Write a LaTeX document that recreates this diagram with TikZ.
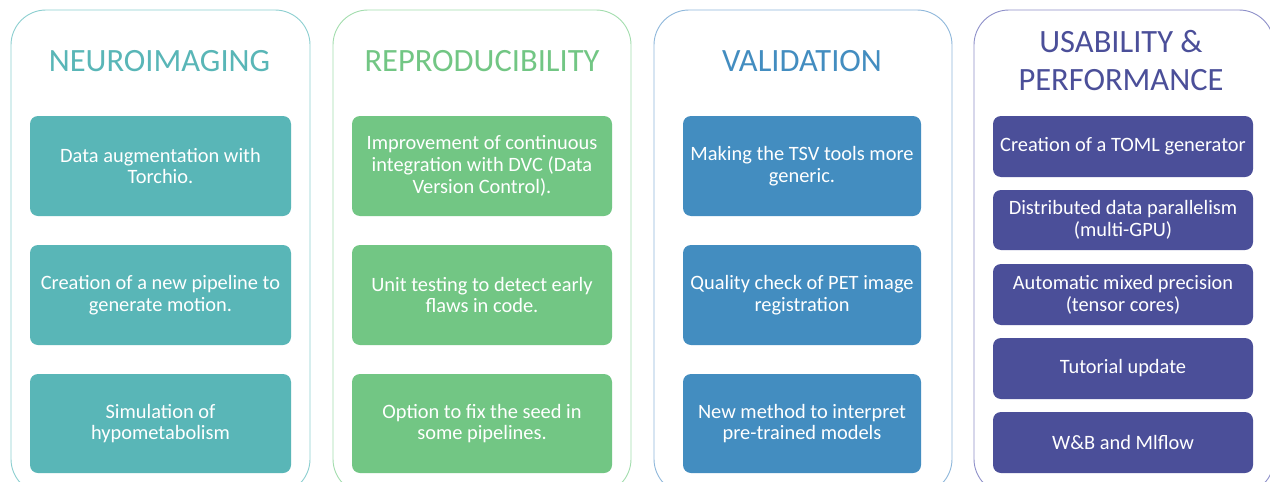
\documentclass[tikz,border=0pt]{standalone}
\usepackage{fontspec}
\setmainfont{Carlito}
\definecolor{cA}{HTML}{59B6B7}
\definecolor{cAl}{HTML}{8CCFD0}
\definecolor{cB}{HTML}{72C684}
\definecolor{cBl}{HTML}{A3DDAE}
\definecolor{cC}{HTML}{438DC0}
\definecolor{cCl}{HTML}{8FB8DB}
\definecolor{cD}{HTML}{4B4F99}
\definecolor{cDl}{HTML}{8E90C9}
\tikzset{
  outerbox/.style={draw, line width=0.9pt, rounded corners=35pt, minimum width=#1, minimum height=484pt, inner sep=0pt},
  itembox/.style={rounded corners=8pt, text=white, align=center, inner sep=0pt, font=\fontsize{20.4}{21.8}\selectfont},
  titletext/.style={align=center, font=\fontsize{32.5}{38}\selectfont}
}
\begin{document}
\begin{tikzpicture}[x=1pt,y=-1pt]
\useasboundingbox (0,0) rectangle (1270,482);
\clip (0,0) rectangle (1270,482);
\fill[white] (0,0) rectangle (1270,482);
% outer panels
\node[outerbox=299pt, draw=cAl] (p1) at (160.5,252) {};
\node[outerbox=298pt, draw=cBl] (p2) at (482,252) {};
\node[outerbox=298pt, draw=cCl] (p3) at (803,252) {};
\node[outerbox=300pt, draw=cDl] (p4) at (1124,252) {};
% titles
\node[titletext, text=cA] (t1) at (159.5,61) {NEUROIMAGING};
\node[titletext, text=cB] (t2) at (482,61) {REPRODUCIBILITY};
\node[titletext, text=cC] (t3) at (802,61) {VALIDATION};
\node[titletext, text=cD] (t4) at (1121,61) {USABILITY \&\\PERFORMANCE};
% column 1
\node[itembox, fill=cA, minimum width=261pt, minimum height=100pt] (a1) at (160.5,166) {Data augmentation with\\Torchio.};
\node[itembox, fill=cA, minimum width=261pt, minimum height=100pt] (a2) at (160.5,295) {Creation of a new pipeline to\\generate motion.};
\node[itembox, fill=cA, minimum width=261pt, minimum height=99pt] (a3) at (160.5,423.5) {Simulation of\\hypometabolism};
% column 2
\node[itembox, fill=cB, minimum width=260pt, minimum height=100pt] (b1) at (482,166) {Improvement of continuous\\integration with DVC (Data\\Version Control).};
\node[itembox, fill=cB, minimum width=260pt, minimum height=100pt] (b2) at (482,295) {Unit testing to detect early\\flaws in code.};
\node[itembox, fill=cB, minimum width=260pt, minimum height=99pt] (b3) at (482,423.5) {Option to fix the seed in\\some pipelines.};
% column 3
\node[itembox, fill=cC, minimum width=238pt, minimum height=100pt] (c1) at (802,166) {Making the TSV tools more\\generic.};
\node[itembox, fill=cC, minimum width=238pt, minimum height=100pt] (c2) at (802,295) {Quality check of PET image\\registration};
\node[itembox, fill=cC, minimum width=238pt, minimum height=99pt] (c3) at (802,423.5) {New method to interpret\\pre-trained models};
% column 4
\node[itembox, fill=cD, minimum width=260pt, minimum height=61pt] (d1) at (1123,146.5) {Creation of a TOML generator};
\node[itembox, fill=cD, minimum width=260pt, minimum height=60pt] (d2) at (1123,220) {Distributed data parallelism\\(multi-GPU)};
\node[itembox, fill=cD, minimum width=260pt, minimum height=61pt] (d3) at (1123,294.5) {Automatic mixed precision\\(tensor cores)};
\node[itembox, fill=cD, minimum width=260pt, minimum height=61pt] (d4) at (1123,368.5) {Tutorial update};
\node[itembox, fill=cD, minimum width=260pt, minimum height=61pt] (d5) at (1123,442.5) {W\&B and Mlflow};
\end{tikzpicture}
\end{document}
